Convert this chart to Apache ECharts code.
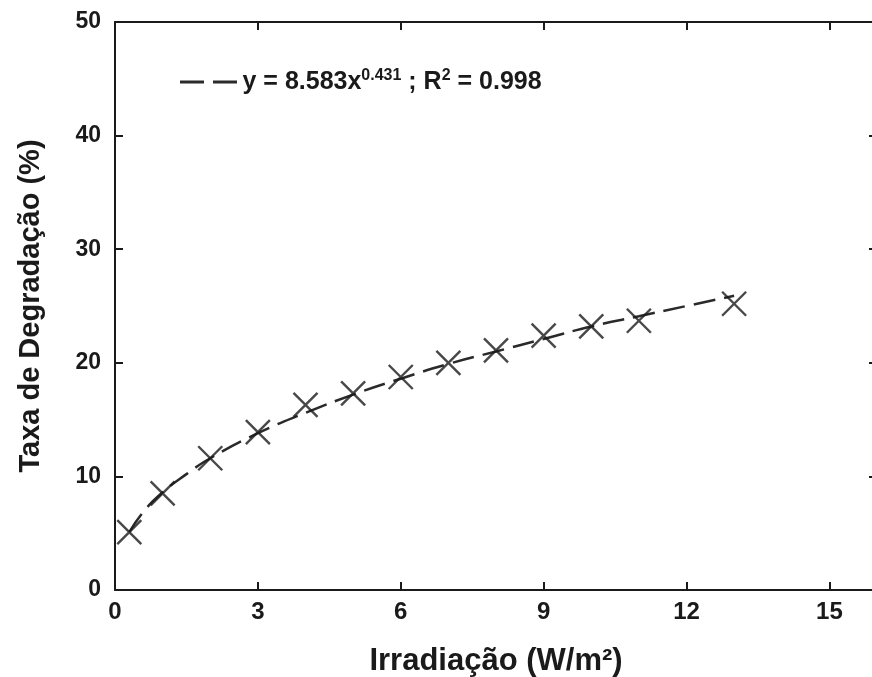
<!DOCTYPE html>
<html>
<head>
<meta charset="utf-8">
<script src="https://cdn.jsdelivr.net/npm/echarts@6/dist/echarts.min.js"></script>
<style>
    html, body { margin: 0; padding: 0; background: #fff; }
    #chart { width: 872px; height: 677px; }
</style>
</head>
<body>
<div id="chart"></div>
<script>
// measured points
const irradiation = [0.3, 1, 2, 3, 4, 5, 6, 7, 8, 9, 10, 11, 13]
const degradation = [5.1, 8.5, 11.6, 13.9, 16.3, 17.3, 18.75, 20.0, 21.1, 22.4, 23.2, 23.7, 25.2]

// fitted curve
const fitX = [0.3, 0.6, 1, 1.5, 2, 3, 4, 5, 6, 7, 8, 9, 10, 11, 12, 13]
const fitY = [5.1, 6.9, 8.6, 10.2, 11.6, 13.8, 15.6, 17.2, 18.6, 19.9, 21.0, 22.1, 23.2, 24.1, 25.0, 25.9]

const xTicks = [0, 3, 6, 9, 12, 15]

const FONT = 'Liberation Sans'
const INK = '#1a1a1a'

const chart = echarts.init(document.getElementById('chart'))

const tickStyle = { show: true, inside: true, length: 8, lineStyle: { color: INK, width: 2 } }
const lineStyle = { show: true, onZero: false, lineStyle: { color: INK, width: 2 } }

chart.setOption({
    animation: false,
    grid: { left: 115, top: 22, width: 762, height: 568, outerBoundsMode: 'none', containLabel: false },
    legend: {
        data: [{ name: 'fit', icon: 'path://M0,0H24V3H0Z M33,0H57V3H33Z' }],
        left: 175,
        top: 63,
        itemWidth: 58,
        itemHeight: 3,
        itemGap: 3,
        formatter: () => '{t|y = 8.583x}{s|0.431}{t| ; R}{s|2}{t| = 0.998}',
        textStyle: {
            rich: {
                t: { fontFamily: FONT, fontWeight: 'bold', fontSize: 25, color: INK },
                s: { fontFamily: FONT, fontWeight: 'bold', fontSize: 16, color: INK, verticalAlign: 'top', padding: [0, 0, 12, 0] }
            }
        }
    },
    xAxis: [
        {
            type: 'value',
            min: 0,
            max: 16,
            interval: 3,
            name: 'Irradiação (W/m²)',
            nameLocation: 'middle',
            nameGap: 56,
            nameTextStyle: { fontFamily: FONT, fontWeight: 'bold', fontSize: 31, color: INK },
            axisLine: lineStyle,
            axisTick: tickStyle,
            splitLine: { show: false },
            axisLabel: {
                fontFamily: FONT, fontWeight: 'bold', fontSize: 24, color: INK, margin: 10,
                formatter: v => xTicks.includes(v) ? String(v) : ''
            }
        },
        {
            type: 'value',
            position: 'top',
            min: 0,
            max: 16,
            interval: 3,
            axisLine: lineStyle,
            axisTick: tickStyle,
            splitLine: { show: false },
            axisLabel: { show: false }
        }
    ],
    yAxis: [
        {
            type: 'value',
            min: 0,
            max: 50,
            interval: 10,
            name: 'Taxa de Degradação (%)',
            nameLocation: 'middle',
            nameGap: 70,
            nameTextStyle: { fontFamily: FONT, fontWeight: 'bold', fontSize: 29, color: INK },
            axisLine: lineStyle,
            axisTick: tickStyle,
            splitLine: { show: false },
            axisLabel: { fontFamily: FONT, fontWeight: 'bold', fontSize: 23, color: INK, margin: 14 }
        },
        {
            type: 'value',
            position: 'right',
            min: 0,
            max: 50,
            interval: 10,
            axisLine: lineStyle,
            axisTick: tickStyle,
            splitLine: { show: false },
            axisLabel: { show: false }
        }
    ],
    series: [
        {
            name: 'fit',
            type: 'line',
            smooth: true,
            showSymbol: false,
            symbol: 'none',
            data: fitX.map((x, i) => [x, fitY[i]]),
            lineStyle: { color: '#2a2a2a', width: 2.5, type: [22, 9] },
            itemStyle: { color: '#2a2a2a' },
            z: 2
        },
        {
            name: 'data',
            type: 'scatter',
            symbol: 'path://M0,0L10,10M10,0L0,10',
            symbolSize: 24,
            data: irradiation.map((x, i) => [x, degradation[i]]),
            itemStyle: { color: 'none', borderColor: '#1a1a1a', borderWidth: 2.4 },
            z: 3
        }
    ]
})
</script>
</body>
</html>
